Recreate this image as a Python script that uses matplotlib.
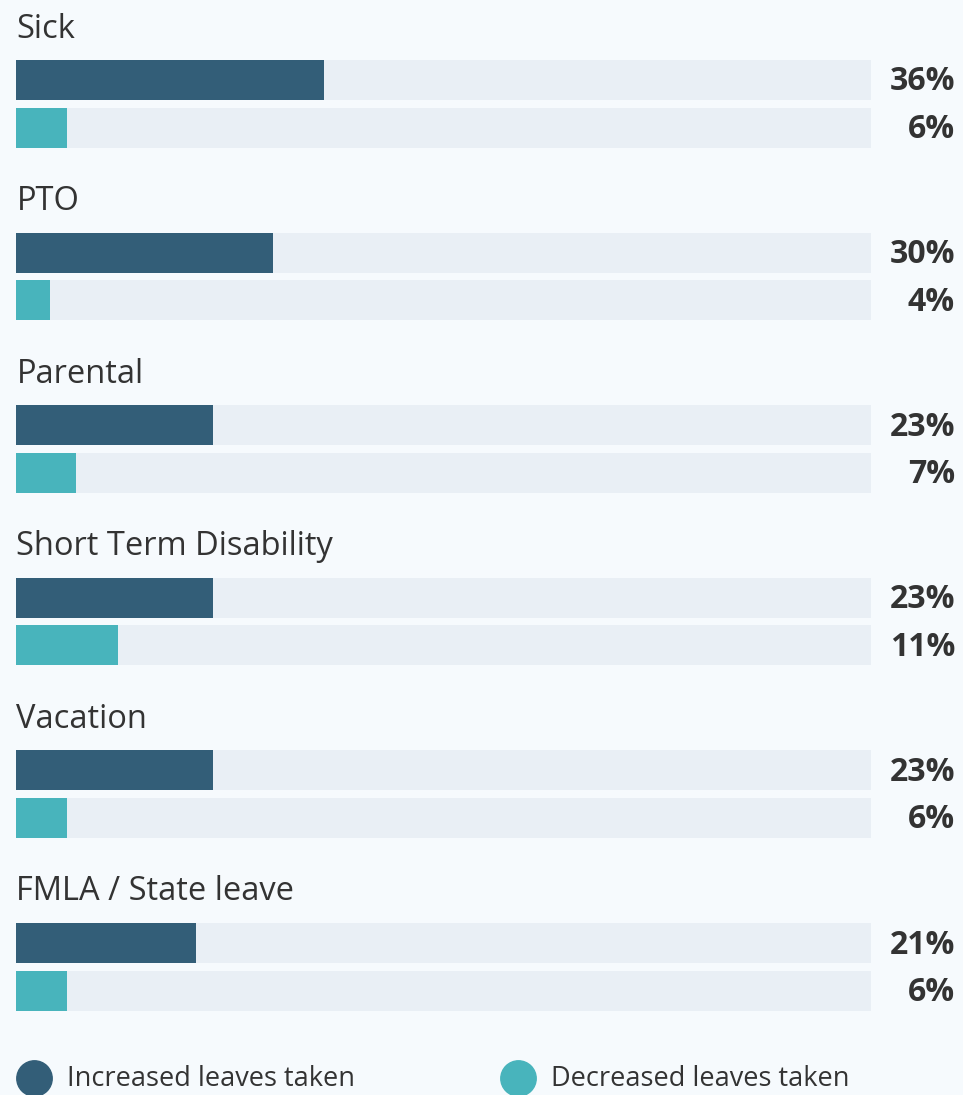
import matplotlib.pyplot as plt
import numpy as np

categories = ["Sick", "PTO", "Parental", "Short Term Disability", "Vacation", "FMLA / State leave"]
increased = [36, 30, 23, 23, 23, 21]
decreased = [6, 4, 7, 11.9, 6, 6]
legend_labels = ["Increased leaves taken", "Decreased leaves taken"]

DARK = "#335e78"
TEAL = "#48b4bc"
TRACK = "#e9eff5"
BG = "#f6fafd"
TXT = "#333333"

plt.rcParams['font.family'] = ['Open Sans', 'DejaVu Sans']

W, H = 963, 1095
fig = plt.figure(figsize=(W / 100, H / 100), dpi=100, facecolor=BG)
# axes spans track width: 0% at x=16px, 100% at x=871px
ax = fig.add_axes([16 / W, 0, 855 / W, 1])
ax.set_facecolor(BG)
ax.set_xlim(0, 100)
ax.set_ylim(H, 0)
ax.axis("off")

px = 100 / 855  # one pixel in data units
step = 172.6
bar_h = 40
for i, cat in enumerate(categories):
    top = 60 + i * step
    ys = [top + bar_h / 2, top + 47.5 + bar_h / 2]
    ax.barh(ys, [100, 100], height=bar_h, color=TRACK, left=0)
    ax.barh(ys[0], increased[i], height=bar_h, color=DARK)
    ax.barh(ys[1], decreased[i], height=bar_h, color=TEAL)
    ax.text(0.5 * px, top - 31, cat, fontsize=23.5, color=TXT, va="center", ha="left")
    ax.text(100 + 84 * px, ys[0] + 2, f"{int(increased[i])}%", fontsize=23, fontweight="bold",
            color=TXT, va="center", ha="right", clip_on=False)
    ax.text(100 + 84 * px, ys[1] + 2, f"{int(decreased[i])}%", fontsize=23, fontweight="bold",
            color=TXT, va="center", ha="right", clip_on=False)

# legend
for j, (lab, col) in enumerate(zip(legend_labels, [DARK, TEAL])):
    cx = (18 + j * 484) * px
    ax.scatter([cx], [1078], s=650, color=col, clip_on=False, zorder=3)
    ax.text(cx + 33 * px, 1079, lab, fontsize=19.5, color=TXT, va="center", ha="left",
            clip_on=False)

fig.savefig("out.png", dpi=100, facecolor=BG)
